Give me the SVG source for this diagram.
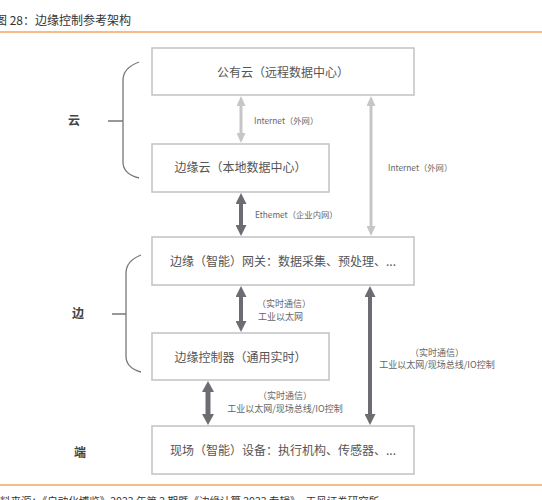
<svg xmlns="http://www.w3.org/2000/svg" width="542" height="500" viewBox="0 0 542 500">
<style>
text{font-family:"Noto Sans CJK SC","Noto Sans",sans-serif;}
.box{fill:#fff;stroke:#c2c2c2;stroke-width:1.5;}
.bt{font-size:12px;fill:#555;text-anchor:middle;}
.lt{font-size:8.3px;fill:#666;}
.st{font-size:9px;fill:#666;}
.side{font-size:12px;fill:#444;text-anchor:middle;font-weight:bold;}
.rule{stroke:#f6a35e;stroke-width:1.5;}
.brace{fill:none;stroke:#777;stroke-width:1.3;}
.la{stroke:#c6c6c6;stroke-width:3;marker-start:url(#ha);marker-end:url(#ha);}
.da{stroke:#6c6c72;stroke-width:4;marker-start:url(#hb);marker-end:url(#hb);}
.db{stroke:#6c6c72;stroke-width:5;marker-start:url(#hc);marker-end:url(#hc);}
</style>
<defs>
<marker id="ha" markerUnits="userSpaceOnUse" viewBox="0 0 10 9" markerWidth="10" markerHeight="9" refX="0" refY="4.5" orient="auto-start-reverse"><path d="M0,0 L10,4.5 L0,9 z" fill="#c6c6c6"/></marker>
<marker id="hb" markerUnits="userSpaceOnUse" viewBox="0 0 11 11" markerWidth="11" markerHeight="11" refX="0" refY="5.5" orient="auto-start-reverse"><path d="M0,0 L11,5.5 L0,11 z" fill="#6c6c72"/></marker>
<marker id="hc" markerUnits="userSpaceOnUse" viewBox="0 0 11 12" markerWidth="11" markerHeight="12" refX="0" refY="6" orient="auto-start-reverse"><path d="M0,0 L11,6 L0,12 z" fill="#6c6c72"/></marker>
</defs>
<rect width="542" height="500" fill="#fff"/>
<g id="header">
<text x="-5" y="25" style="font-size:12px;fill:#333;">图 28：边缘控制参考架构</text>
<line class="rule" x1="0" y1="32" x2="542" y2="32"/>
</g>
<g id="footer">
<line class="rule" x1="0" y1="485" x2="542" y2="485"/>
<text x="0" y="505" style="font-size:10.5px;fill:#333;">料来源：《自动化博览》2023 年第 2 期暨《边缘计算 2023 专辑》，天风证券研究所</text>
</g>
<g id="labels-side">
<text class="side" x="74" y="125">云</text>
<path class="brace" d="M108,121 H123 M139,62 Q123,68 123,80 V162 Q123,174 139,178"/>
<text class="side" x="78" y="318">边</text>
<path class="brace" d="M112,314 H126 M141,255 Q126,261 126,273 V356 Q126,368 141,372"/>
<text class="side" x="80" y="457">端</text>
</g>
<g id="connectors">
<line class="la" x1="241" y1="106" x2="241" y2="133"/>
<line class="la" x1="371" y1="106" x2="371" y2="226"/>
<line class="da" x1="241" y1="204" x2="241" y2="225"/>
<line class="da" x1="241" y1="297" x2="241" y2="321"/>
<line class="db" x1="208" y1="392" x2="208" y2="414"/>
<line class="da" x1="370" y1="297" x2="370" y2="414"/>
<text class="lt" x="254" y="124">Internet（外网）</text>
<text class="lt" x="388" y="171">Internet（外网）</text>
<text class="lt" x="255" y="218">Ethemet（企业内网）</text>
<text class="st" x="257" y="307">（实时通信）</text>
<text class="st" x="258" y="320">工业以太网</text>
<text class="st" x="285" y="399" text-anchor="middle">（实时通信）</text>
<text class="st" x="285" y="412" text-anchor="middle">工业以太网/现场总线/IO控制</text>
<text class="st" x="437" y="356" text-anchor="middle">（实时通信）</text>
<text class="st" x="437" y="368" text-anchor="middle">工业以太网/现场总线/IO控制</text>
</g>
<g id="public-cloud"><rect class="box" x="152" y="48" width="262" height="47"/><text class="bt" x="283" y="77">公有云（远程数据中心）</text></g>
<g id="edge-cloud"><rect class="box" x="152" y="144" width="177" height="48"/><text class="bt" x="240.5" y="172">边缘云（本地数据中心）</text></g>
<g id="gateway"><rect class="box" x="152" y="237" width="262" height="48"/><text class="bt" x="283" y="266">边缘（智能）网关：数据采集、预处理、...</text></g>
<g id="controller"><rect class="box" x="152" y="333" width="177" height="47"/><text class="bt" x="240.5" y="362">边缘控制器（通用实时）</text></g>
<g id="field"><rect class="box" x="152" y="426" width="262" height="48"/><text class="bt" x="283" y="455">现场（智能）设备：执行机构、传感器、...</text></g>
</svg>
